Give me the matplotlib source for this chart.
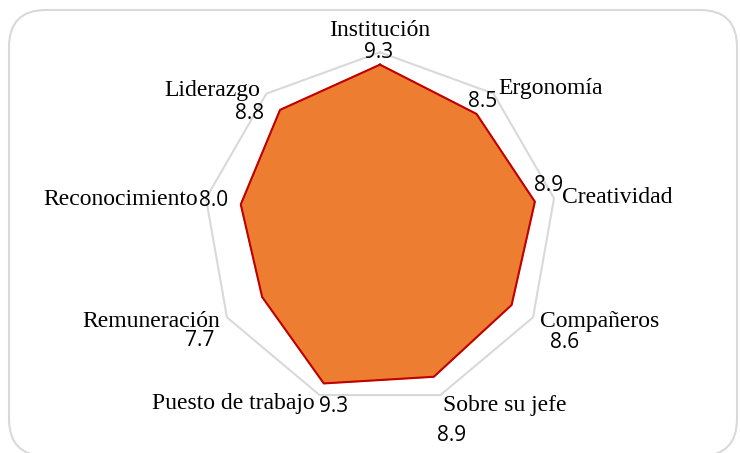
import numpy as np
import matplotlib
matplotlib.use("Agg")
import matplotlib.pyplot as plt
from matplotlib.patches import FancyBboxPatch

# ---- data ----
categories = ["Institución", "Ergonomía", "Creatividad", "Compañeros", "Sobre su jefe",
              "Puesto de trabajo", "Remuneración", "Reconocimiento", "Liderazgo"]
values = [9.3, 8.5, 8.9, 8.6, 8.9, 9.3, 7.7, 8.0, 8.8]
value_labels = ["9.3", "8.5", "8.9", "8.6", "8.9", "9.3", "7.7", "8.0", "8.8"]
r_max = 10

# ---- layout (label placement offsets in pixels from each axis' outer vertex) ----
cat_off = [(0, 22.3), (4.4, 5.6), (8, 1.3), (7, -4.6), (2.6, -10),
           (-4.6, -8), (-7, -4.6), (-8, -0.7), (-6.4, 3.6)]
cat_ha = ["center", "left", "left", "left", "left", "right", "right", "right", "right"]
val_off = [(-1, 0.3), (-10.6, -7.4), (-5, 13.3), (32, -25.6), (11.6, -40),
           (14.4, -11), (-27, -23.6), (8, -1.7), (-16.4, -19.4)]

W, H = 740, 453
fig = plt.figure(figsize=(W / 100, H / 100), dpi=100)

# rounded border
border = FancyBboxPatch((9 / W, 1 - 456 / H), (737 - 9) / W, (456 - 10) / H,
                        boxstyle="round,pad=0,rounding_size=0.05",
                        transform=fig.transFigure, facecolor="none",
                        edgecolor="#D9D9D9", linewidth=1.5, mutation_aspect=W / H,
                        zorder=0)
fig.patches.append(border)

# cut-off title descender
fig.text(198 / W, 1 + 7 / H, "y", ha="center", va="baseline", fontsize=17,
         style="italic", fontfamily="Liberation Serif", color="black")

cx, cy, R = 380, 229, 176.7
ax = fig.add_axes([(cx - R) / W, (H - cy - R) / H, 2 * R / W, 2 * R / H], projection="polar")
ax.set_zorder(2)
ax.set_theta_zero_location("N")
ax.set_theta_direction(-1)
ax.set_ylim(0, r_max)
ax.set_xticks([])
ax.set_yticks([])
ax.grid(False)
ax.spines["polar"].set_visible(False)
ax.patch.set_alpha(0)

n = len(categories)
theta = np.arange(n) * 2 * np.pi / n
th_c = np.append(theta, theta[0])

ax.plot(th_c, [r_max] * (n + 1), color="#D9D9D9", lw=1.5, clip_on=False, zorder=1)
vals_c = np.append(values, values[0])
ax.fill(th_c, vals_c, color="#ED7D31", zorder=2)
ax.plot(th_c, vals_c, color="#C00000", lw=1.5, zorder=3)

for i in range(n):
    ax.annotate(categories[i], xy=(theta[i], r_max), xytext=cat_off[i],
                textcoords="offset pixels", ha=cat_ha[i], va="center",
                fontsize=17, fontfamily="Liberation Serif", color="black",
                annotation_clip=False, zorder=5)
    ax.annotate(value_labels[i], xy=(theta[i], r_max), xytext=val_off[i],
                textcoords="offset pixels", ha="center", va="center",
                fontsize=15, fontfamily="Open Sans", color="black",
                annotation_clip=False, zorder=5)

fig.savefig("out.png", dpi=100)
